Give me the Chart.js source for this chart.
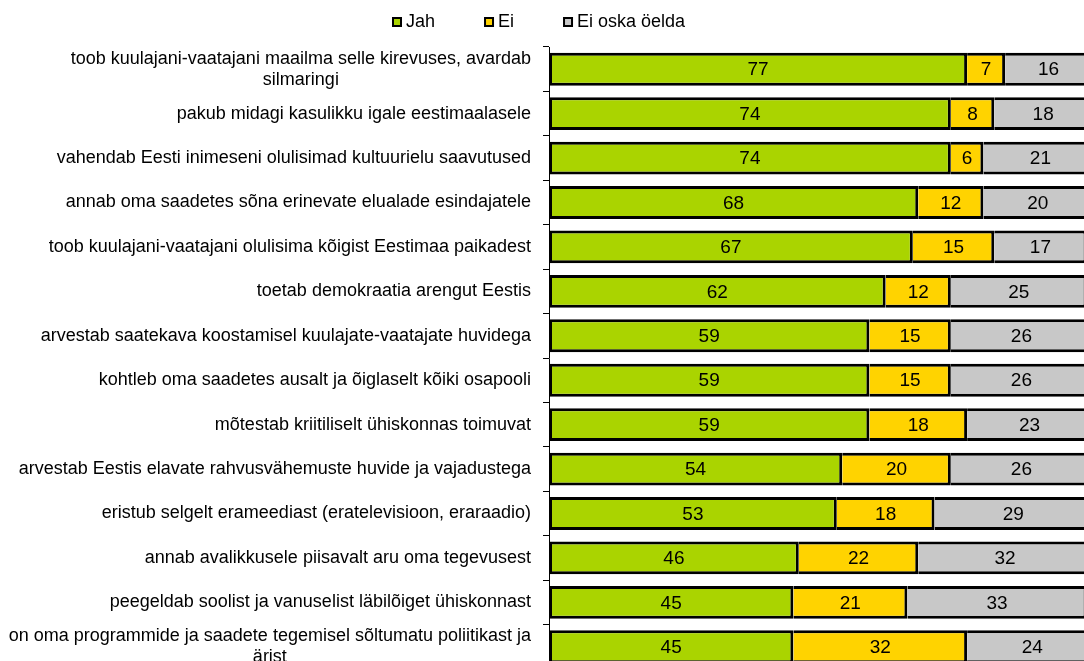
<!DOCTYPE html>
<html>
<head>
<meta charset="utf-8">
<script src="https://cdn.jsdelivr.net/npm/chart.js@4.4.1/dist/chart.umd.min.js"></script>
<style>
html,body{margin:0;padding:0;overflow:hidden;background:#fff;}
#wrap{width:1100px;height:675px;position:relative;}
</style>
</head>
<body>
<div id="wrap"><canvas id="c"></canvas></div>
<script>
const categories = [
  ["toob kuulajani-vaatajani maailma selle kirevuses, avardab", "silmaringi"],
  "pakub midagi kasulikku igale eestimaalasele",
  "vahendab Eesti inimeseni olulisimad kultuurielu saavutused",
  "annab oma saadetes sõna erinevate elualade esindajatele",
  "toob kuulajani-vaatajani olulisima kõigist Eestimaa paikadest",
  "toetab demokraatia arengut Eestis",
  "arvestab saatekava koostamisel kuulajate-vaatajate huvidega",
  "kohtleb oma saadetes ausalt ja õiglaselt kõiki osapooli",
  "mõtestab kriitiliselt ühiskonnas toimuvat",
  "arvestab Eestis elavate rahvusvähemuste huvide ja vajadustega",
  "eristub selgelt erameediast (eratelevisioon, eraraadio)",
  "annab avalikkusele piisavalt aru oma tegevusest",
  "peegeldab soolist ja vanuselist läbilõiget ühiskonnast",
  ["on oma programmide ja saadete tegemisel sõltumatu poliitikast ja", "ärist"]
];
const seriesNames = ["Jah", "Ei", "Ei oska öelda"];
const jah    = [77, 74, 74, 68, 67, 62, 59, 59, 59, 54, 53, 46, 45, 45];
const ei     = [ 7,  8,  6, 12, 15, 12, 15, 15, 18, 20, 18, 22, 21, 32];
const eiOska = [16, 18, 21, 20, 17, 25, 26, 26, 23, 26, 29, 32, 33, 24];
const xTicks = [0, 100];

const colors = ["#AAD400", "#FFD300", "#C8C8C8"];
const FONT = "'Liberation Sans', Arial, sans-serif";

const valueLabels = {
  id: 'valueLabels',
  afterDatasetsDraw(chart) {
    const ctx = chart.ctx;
    ctx.save();
    ctx.font = "19px " + FONT;
    ctx.fillStyle = "#000";
    ctx.textAlign = "center";
    ctx.textBaseline = "middle";
    chart.data.datasets.forEach((ds, i) => {
      const meta = chart.getDatasetMeta(i);
      meta.data.forEach((el, j) => {
        const p = el.getProps(['x', 'y', 'base'], true);
        ctx.fillText(String(ds.data[j]), (p.x + p.base) / 2, p.y + 1);
      });
    });
    ctx.restore();
  }
};

const catLabels = {
  id: 'catLabels',
  afterDraw(chart) {
    const ctx = chart.ctx;
    const ys = chart.scales.y;
    ctx.save();
    ctx.font = "18px " + FONT;
    ctx.fillStyle = "#000";
    ctx.textAlign = "center";
    ctx.textBaseline = "middle";
    const right = 531, lineH = 21;
    chart.data.labels.forEach((lab, i) => {
      const lines = Array.isArray(lab) ? lab : [lab];
      const cy = ys.getPixelForValue(i);
      const w = Math.max(...lines.map(l => ctx.measureText(l).width));
      const cx = right - w / 2;
      lines.forEach((l, k) => ctx.fillText(l, cx, cy + (k - (lines.length - 1) / 2) * lineH));
    });
    ctx.restore();
  }
};

const legendDraw = {
  id: 'legendDraw',
  afterDraw(chart) {
    const ctx = chart.ctx;
    ctx.save();
    ctx.font = "18px " + FONT;
    ctx.textAlign = "left";
    ctx.textBaseline = "middle";
    let x = 392;
    const cy = 22, box = 10, gap = 49;
    chart.data.datasets.forEach((ds) => {
      ctx.fillStyle = "#000";
      ctx.fillRect(x, cy - box / 2, box, box);
      ctx.fillStyle = ds.backgroundColor;
      ctx.fillRect(x + 2, cy - box / 2 + 2, box - 4, box - 4);
      ctx.fillStyle = "#000";
      const tx = x + box + 4;
      ctx.fillText(ds.label, tx, cy);
      x = tx + ctx.measureText(ds.label).width + gap;
    });
    ctx.restore();
  }
};

const seriesData = [jah, ei, eiOska];

new Chart(document.getElementById('c'), {
  type: 'bar',
  data: {
    labels: categories,
    datasets: seriesNames.map((name, i) => ({
      label: name,
      data: seriesData[i],
      backgroundColor: colors[i],
      borderColor: "#000",
      borderWidth: 3,
      borderSkipped: i === 0 ? false : 'start',
      barPercentage: 0.74,
      categoryPercentage: 1
    }))
  },
  options: {
    indexAxis: 'y',
    responsive: true,
    maintainAspectRatio: false,
    animation: false,
    events: [],
    layout: { padding: { top: 47, right: 8, bottom: 6, left: 0 } },
    plugins: { legend: { display: false }, tooltip: { enabled: false } },
    scales: {
      x: {
        stacked: true,
        min: xTicks[0],
        max: xTicks[1],
        display: false
      },
      y: {
        stacked: true,
        position: 'left',
        grid: { display: true, drawOnChartArea: false, drawTicks: true, tickLength: 6, color: "#000", lineWidth: 1, offset: true },
        border: { display: true, color: "#000", width: 1 },
        ticks: { display: false },
        afterFit(s) { s.width = 549; }
      }
    }
  },
  plugins: [valueLabels, catLabels, legendDraw]
});
</script>
</body>
</html>
